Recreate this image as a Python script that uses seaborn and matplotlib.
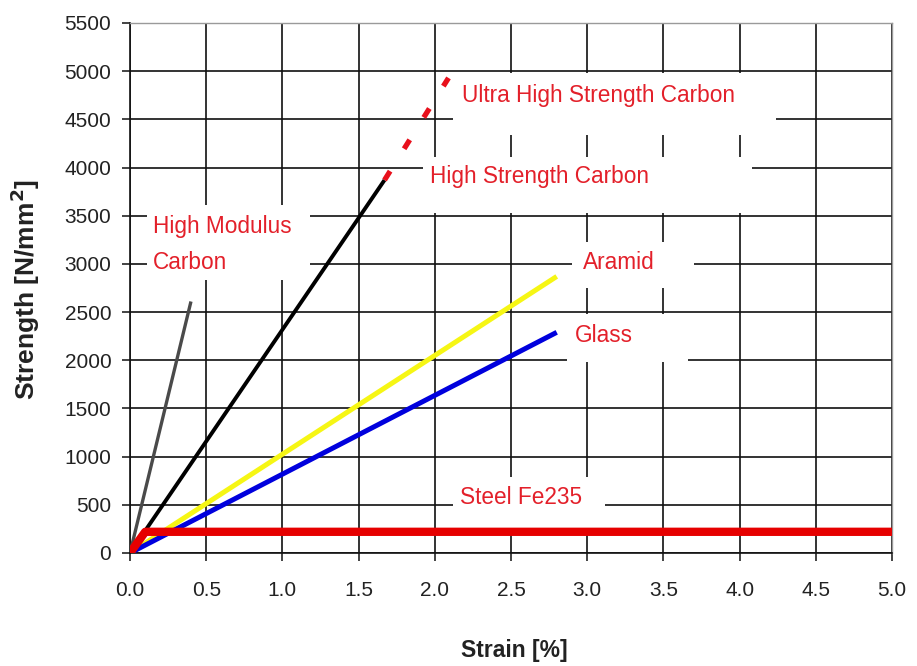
import matplotlib
matplotlib.use("Agg")
import matplotlib.pyplot as plt
from matplotlib.patches import Rectangle
import seaborn as sns
import pandas as pd

# ---------------- data ----------------
hm_strain = [0.0, 0.40]
hm_strength = [0, 2610]
hs_strain = [0.0, 1.67]
hs_strength = [0, 3870]
uhs_strain = [1.67, 2.09]
uhs_strength = [3870, 4930]
ar_strain = [0.0, 2.80]
ar_strength = [0, 2870]
gl_strain = [0.0, 2.80]
gl_strength = [0, 2290]
st_strain = [0.0, 0.10, 5.0]
st_strength = [0, 220, 220]

x_ticks = [0.0, 0.5, 1.0, 1.5, 2.0, 2.5, 3.0, 3.5, 4.0, 4.5, 5.0]
y_ticks = [0, 500, 1000, 1500, 2000, 2500, 3000, 3500, 4000, 4500, 5000, 5500]

labels = ["High Modulus", "Carbon", "Ultra High Strength Carbon",
          "High Strength Carbon", "Aramid", "Glass", "Steel Fe235"]

# ---------------- style ----------------
sns.set_theme(style="white")
plt.rcParams['font.family'] = ['Liberation Sans', 'DejaVu Sans']

fig = plt.figure(figsize=(9.17, 6.66), dpi=100)
ax = fig.add_axes([130 / 917, 1 - 553 / 666, 762 / 917, 530 / 666])

series = [
    (hm_strain, hm_strength, "#4a4a4a", 2.4, "-"),
    (hs_strain, hs_strength, "#000000", 2.8, "-"),
    (ar_strain, ar_strength, "#f6f614", 3.6, "-"),
    (gl_strain, gl_strength, "#0000dd", 3.6, "-"),
    (uhs_strain, uhs_strength, "#e8101c", 3.8, (0, (2.0, 5.0))),
    (st_strain, st_strength, "#e60000", 6.0, "-"),
]
for i, (xs, ys, col, lw, ls) in enumerate(series):
    df = pd.DataFrame({"strain": xs, "strength": ys})
    sns.lineplot(data=df, x="strain", y="strength", color=col, linewidth=lw,
                 linestyle=ls, sort=False, estimator=None, ax=ax,
                 zorder=3 + i, solid_capstyle="butt", dash_capstyle="butt")

ax.set_xlim(0, 5.0)
ax.set_ylim(0, 5500)
ax.set_xticks(x_ticks)
ax.set_xticklabels([f"{v:.1f}" for v in x_ticks])
ax.set_yticks(y_ticks)
ax.set_yticklabels([str(v) for v in y_ticks])
ax.set_xlabel("")
ax.set_ylabel("")

ax.set_axisbelow(True)
ax.grid(True, color="#111111", linewidth=1.2, zorder=0.5)
ax.tick_params(axis="both", which="major", direction="out", length=5.5,
               width=1.1, color="#111111", labelsize=15, labelcolor="#222222",
               left=True, bottom=True)
ax.tick_params(axis="y", pad=8)
ax.tick_params(axis="x", pad=15)
for s in ["left", "bottom"]:
    ax.spines[s].set_color("#111111")
    ax.spines[s].set_linewidth(1.2)
for s in ["top", "right"]:
    ax.spines[s].set_color("#9a9a9a")
    ax.spines[s].set_linewidth(1.0)

# white label boxes (hide the grid behind labels)
boxes = [
    (0.11, 2830, 1.07, 780),
    (2.12, 4340, 2.12, 645),
    (1.92, 3525, 2.16, 585),
    (2.90, 2750, 0.80, 477),
    (2.87, 1982, 0.79, 498),
    (2.12, 240, 1.00, 549),
]
for (bx, by, bw, bh) in boxes:
    ax.add_patch(Rectangle((bx, by), bw, bh, facecolor="white",
                           edgecolor="none", zorder=1))

text_pos = [
    (0.15, 3393), (0.15, 3010), (2.18, 4743), (1.97, 3902),
    (2.97, 3010), (2.92, 2262), (2.165, 571),
]
red = "#e3202a"
for lab, (tx, ty) in zip(labels, text_pos):
    ax.text(tx, ty, lab, color=red, fontsize=16.3, ha="left", va="center",
            zorder=20)

fig.text(514 / 917, 1 - 651 / 666, "Strain [%]", ha="center", va="center",
         fontsize=16.5, fontweight="bold", color="#222222")
fig.text(25 / 917, 1 - 290 / 666, "Strength [N/mm$^\\mathbf{2}$]",
         ha="center", va="center", rotation=90, fontsize=19,
         fontweight="bold", color="#222222")

fig.savefig("out.png", dpi=100, facecolor="white")
